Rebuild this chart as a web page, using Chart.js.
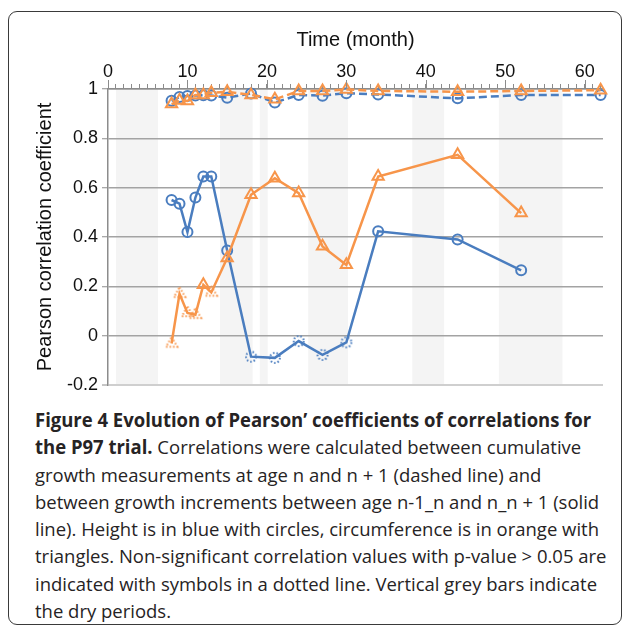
<!DOCTYPE html>
<html><head><meta charset="utf-8">
<script src="https://cdn.jsdelivr.net/npm/chart.js@4/dist/chart.umd.min.js"></script>
<style>
html,body{margin:0;padding:0;background:#fff;}
body{width:629px;height:626px;position:relative;overflow:hidden;}
#frame{position:absolute;left:8px;top:11px;width:614px;height:614px;border:1.5px solid #3a3a3a;border-radius:9px;box-sizing:border-box;}
#wrap{position:absolute;left:0;top:0;width:629px;height:400px;}
#cap{position:absolute;left:35px;top:407px;font-family:"Open Sans",sans-serif;font-size:18.8px;color:#262324;white-space:nowrap;}
#cap div{height:27.3px;line-height:27.3px;transform-origin:0 50%;}
#cap b{font-weight:700;}
</style></head><body>
<div id="frame"></div>
<div id="wrap"><canvas id="c" width="629" height="400"></canvas></div>
<div id="cap">
<div><span><b>Figure 4 Evolution of Pearson’ coefficients of correlations for</b></span></div>
<div><span><b>the P97 trial.</b> Correlations were calculated between cumulative</span></div>
<div><span>growth measurements at age n and n + 1 (dashed line) and</span></div>
<div><span>between growth increments between age n-1_n and n_n + 1 (solid</span></div>
<div><span>line). Height is in blue with circles, circumference is in orange with</span></div>
<div><span>triangles. Non-significant correlation values with p-value &gt; 0.05 are</span></div>
<div><span>indicated with symbols in a dotted line. Vertical grey bars indicate</span></div>
<div><span>the dry periods.</span></div>
</div>
<script>
// ---- data ----
const months = [8, 9, 10, 11, 12, 13, 15, 18, 21, 24, 27, 30, 34, 44, 52, 62];
const heightCumul = [0.952, 0.968, 0.972, 0.974, 0.975, 0.974, 0.965, 0.982, 0.945, 0.976, 0.973, 0.983, 0.978, 0.962, 0.976, 0.976];
const circCumul = [0.939, 0.953, 0.951, 0.976, 0.976, 0.985, 0.989, 0.976, 0.958, 0.992, 0.992, 0.998, 0.992, 0.989, 0.992, 0.995];
const heightIncr = [0.55, 0.535, 0.42, 0.56, 0.645, 0.645, 0.345, -0.085, -0.09, -0.022, -0.078, -0.027, 0.423, 0.39, 0.265, null];
const circIncr = [-0.032, 0.17, 0.092, 0.085, 0.206, 0.175, 0.315, 0.571, 0.638, 0.578, 0.362, 0.287, 0.645, 0.733, 0.497, null];
const heightIncrNS = [0, 0, 0, 0, 0, 0, 0, 1, 1, 1, 1, 1, 0, 0, 0, 0];
const circIncrNS = [1, 1, 1, 1, 0, 1, 0, 0, 0, 0, 0, 0, 0, 0, 0, 0];
const dryStart = [1.0, 14.1, 19.1, 25.2, 38.3, 49.2];
const dryEnd = [6.3, 18.2, 20.1, 30.2, 42.3, 57.2];
const xTickLabels = [0, 10, 20, 30, 40, 50, 60];
const yTickLabels = [-0.2, 0, 0.2, 0.4, 0.6, 0.8, 1];

// ---- styles ----
const BLUE = '#4a7dbf', ORANGE = '#f7954a';
const FONT = '"Liberation Sans", Arial, sans-serif';

function dottedMarker(kind, color) {
  const c = document.createElement('canvas');
  c.width = 20; c.height = 20;
  const g = c.getContext('2d');
  g.strokeStyle = color; g.lineWidth = 2; g.setLineDash([1.5, 2]);
  g.beginPath();
  if (kind === 'circle') { g.arc(10, 10, 5, 0, Math.PI * 2); }
  else {
    const r = 6.5;
    for (let i = 0; i < 3; i++) {
      const a = i * 2 * Math.PI / 3;
      const px = 10 + Math.sin(a) * r, py = 10 - Math.cos(a) * r;
      i ? g.lineTo(px, py) : g.moveTo(px, py);
    }
    g.closePath();
  }
  g.stroke();
  return c;
}
const dotCircle = dottedMarker('circle', BLUE);
const dotTri = dottedMarker('triangle', ORANGE);

const pts = arr => months.map((m, i) => ({x: m, y: arr[i]}));

const bandsPlugin = {
  id: 'bands',
  beforeDraw(chart) {
    const {ctx, chartArea: a, scales: {x}} = chart;
    ctx.save();
    ctx.fillStyle = '#f4f4f4';
    dryStart.forEach((s, i) => {
      const x0 = x.getPixelForValue(s), x1 = x.getPixelForValue(dryEnd[i]);
      ctx.fillRect(x0, a.top, x1 - x0, a.bottom - a.top);
    });
    ctx.restore();
  },
  afterDraw(chart) {
    // longer tick marks at the labelled (major) x positions
    const {ctx, scales: {x}} = chart;
    ctx.save();
    ctx.strokeStyle = '#8c8c8c'; ctx.lineWidth = 1;
    xTickLabels.forEach(v => {
      const px = Math.round(x.getPixelForValue(v)) + 0.5;
      ctx.beginPath(); ctx.moveTo(px, x.bottom); ctx.lineTo(px, x.bottom - 9); ctx.stroke();
    });
    ctx.restore();
  }
};

const base = {showLine: true, borderWidth: 2.5, pointBorderWidth: 2, pointBackgroundColor: 'rgba(255,255,255,0)', clip: false, tension: 0};

new Chart(document.getElementById('c'), {
  type: 'scatter',
  data: {
    datasets: [
      Object.assign({}, base, {label: 'Height (cumulative)', data: pts(heightCumul), borderColor: BLUE, pointBorderColor: BLUE, borderDash: [8, 4], pointStyle: 'circle', pointRadius: 5, order: 3}),
      Object.assign({}, base, {label: 'Height (increment)', data: pts(heightIncr), borderColor: BLUE, pointBorderColor: BLUE, pointStyle: heightIncrNS.map(f => f ? dotCircle : 'circle'), pointRadius: 5, order: 2}),
      Object.assign({}, base, {label: 'Circumference (cumulative)', data: pts(circCumul), borderColor: ORANGE, pointBorderColor: ORANGE, borderDash: [8, 4], pointStyle: 'triangle', pointRadius: 6.5, order: 1}),
      Object.assign({}, base, {label: 'Circumference (increment)', data: pts(circIncr), borderColor: ORANGE, pointBorderColor: ORANGE, pointStyle: circIncrNS.map(f => f ? dotTri : 'triangle'), pointRadius: 6.5, order: 0})
    ]
  },
  options: {
    responsive: false, animation: false, devicePixelRatio: 1,
    layout: {padding: {left: 0, right: 26, top: 0, bottom: 15}},
    plugins: {legend: {display: false}, tooltip: {enabled: false}},
    scales: {
      x: {
        type: 'linear', position: 'top', min: 0, max: 62.3, bounds: 'data',
        afterFit(s) { s.height = 89; },
        ticks: {stepSize: 1, autoSkip: false, includeBounds: false, maxRotation: 0, padding: 1, color: '#111',
          font: {family: FONT, size: 18}, callback: v => xTickLabels.includes(v) ? String(v) : ''},
        grid: {drawOnChartArea: false, drawTicks: true, tickLength: 5, tickColor: '#8c8c8c', tickWidth: 1},
        border: {display: true, color: '#8c8c8c', width: 1.5},
        title: {display: true, text: 'Time (month)', color: '#111', font: {family: FONT, size: 20}, padding: {top: 28, bottom: 0}}
      },
      y: {
        min: -0.2, max: 1,
        afterFit(s) { s.width = 108; },
        ticks: {stepSize: 0.2, padding: 4, color: '#111', font: {family: FONT, size: 18},
          callback: v => { const r = Number(v.toFixed(1)); return yTickLabels.some(t => Math.abs(t - r) < 1e-9) ? String(r === 0 ? 0 : r) : ''; }},
        grid: {color: c => (c.tick && c.tick.value < -0.1) ? '#cfcfcf' : '#a3a3a3', lineWidth: c => (c.tick && c.tick.value < -0.1) ? 2 : 1.5,
          tickLength: 6, tickColor: '#8c8c8c', tickWidth: 1},
        border: {display: true, color: '#8c8c8c', width: 1.5},
        title: {display: true, text: 'Pearson correlation coefficient', color: '#111', font: {family: FONT, size: 20}, padding: {top: 33, bottom: 0}}
      }
    }
  },
  plugins: [bandsPlugin]
});

// one common horizontal scale for the caption so its full lines match the reference line length
const capRight = [590, 588, 0, 606, 600, 600, 590, 0];
const divs = Array.from(document.querySelectorAll('#cap div'));
const ratios = [];
divs.forEach((d, i) => {
  if (!capRight[i]) return;
  ratios.push((capRight[i] - 35) / d.firstElementChild.getBoundingClientRect().width);
});
const sc = ratios.reduce((a, b) => a + b, 0) / ratios.length;
divs.forEach(d => { d.style.transform = 'scaleX(' + sc.toFixed(4) + ')'; });
</script>
</body></html>
